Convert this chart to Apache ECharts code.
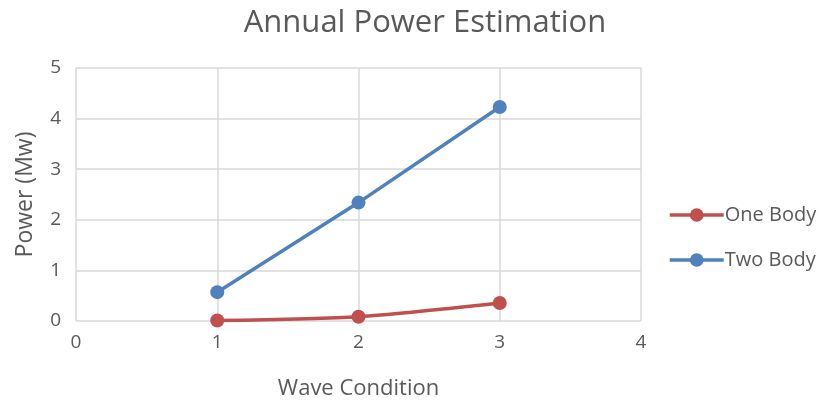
<!DOCTYPE html>
<html><head><meta charset="utf-8">
<script src="https://cdn.jsdelivr.net/npm/echarts@6/dist/echarts.min.js"></script>
<style>html,body{margin:0;padding:0;background:#fff}#c{width:818px;height:405px}</style>
</head><body><div id="c"></div>
<script>
const waveCondition = [1, 2, 3];
const oneBody = [0.01, 0.085, 0.355];
const twoBody = [0.57, 2.34, 4.23];
const seriesNames = ['One Body', 'Two Body'];
const FONT = '"Open Sans", Lato, sans-serif';
const chart = echarts.init(document.getElementById('c'));
chart.setOption({
  animation: false,
  title: {text: 'Annual Power Estimation', left: 420, top: 3, textAlign: 'center',
    textStyle: {fontFamily: FONT, fontSize: 31, fontWeight: 'normal', color: '#595959'}},
  grid: {left: 76, right: 177, top: 68, bottom: 83},
  legend: {orient: 'vertical', left: 663, top: 200, itemWidth: 54, itemHeight: 17, itemGap: 25,
    lineStyle: {width: 3.5},
    textStyle: {fontFamily: FONT, fontSize: 20, color: '#595959', padding: [0,0,0,-4]},
    data: seriesNames},
  xAxis: {type: 'value', min: 0, max: 4, interval: 1, name: 'Wave Condition', nameLocation: 'middle', nameGap: 57,
    nameTextStyle: {fontFamily: FONT, fontSize: 22, color: '#595959'},
    axisLine: {show: false}, axisTick: {show: false},
    axisLabel: {fontFamily: FONT, fontSize: 19, color: '#595959', margin: 12},
    splitLine: {show: true, lineStyle: {color: '#d9d9d9', width: 1.5}}},
  yAxis: {type: 'value', min: 0, max: 5, interval: 1, name: 'Power (Mw)', nameLocation: 'middle', nameGap: 39,
    nameTextStyle: {fontFamily: FONT, fontSize: 23, color: '#595959'},
    axisLine: {show: false}, axisTick: {show: false},
    axisLabel: {fontFamily: FONT, fontSize: 19, color: '#595959', margin: 15},
    splitLine: {show: true, lineStyle: {color: '#d9d9d9', width: 1.5}}},
  series: [
    {name: seriesNames[0], type: 'line', data: waveCondition.map((x,i)=>[x, oneBody[i]]),
     smooth: 0.25, symbol: 'circle', symbolSize: 14, color: '#C0504D', lineStyle: {width: 3.5}},
    {name: seriesNames[1], type: 'line', data: waveCondition.map((x,i)=>[x, twoBody[i]]),
     symbol: 'circle', symbolSize: 14, color: '#4F81BD', lineStyle: {width: 3.5}}
  ]
});
</script></body></html>
